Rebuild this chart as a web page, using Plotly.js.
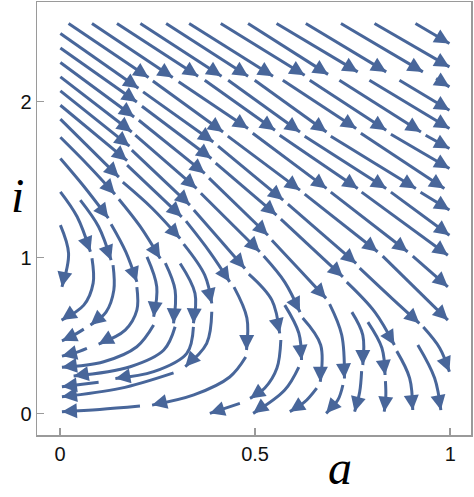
<!DOCTYPE html>
<html><head><meta charset="utf-8">
<script src="https://cdn.plot.ly/plotly-3.0.1.min.js"></script>
<style>html,body{margin:0;padding:0;background:#fff}#chart{width:474px;height:497px}</style>
</head><body><div id="chart"></div>
<script>
// Streamline segments; each is a list of [a, i] points, tail ... tip.
const rowA = [
 [[0.022,2.5],[0.227,2.154]],
 [[0.082,2.5],[0.289,2.154]],
 [[0.146,2.5],[0.354,2.162]],
 [[0.206,2.5],[0.414,2.162]],
 [[0.272,2.5],[0.482,2.162]],
 [[0.331,2.5],[0.546,2.162]],
 [[0.412,2.5],[0.627,2.168]],
 [[0.482,2.5],[0.687,2.174]],
 [[0.555,2.5],[0.763,2.19]],
 [[0.630,2.5],[0.836,2.19]],
 [[0.720,2.5],[0.930,2.19]],
 [[0.806,2.5],[0.998,2.222]],
 [[0.911,2.5],[0.998,2.372]]
];
const leftCol = [
 [[0.001,2.436],[0.201,2.085]],
 [[0.001,2.343],[0.197,1.997]],
 [[0.001,2.250],[0.190,1.901]],
 [[0.001,2.158],[0.184,1.805]],
 [[0.001,2.068],[0.178,1.714]],
 [[0.001,1.976],[0.172,1.621]],
 [[0.001,1.887],[0.151,1.515]],
 [[0.001,1.771],[0.072,1.592],[0.141,1.406]],
 [[0.001,1.635],[0.061,1.457],[0.124,1.252]],
 [[0.001,1.421],[0.044,1.261],[0.078,1.037]],
 [[0.052,1.368],[0.099,1.197],[0.131,0.983]],
 [[0.001,1.208],[0.022,1.026],[0.005,0.812]]
];
const upperChains = [
 [[0.238,2.132],[0.418,1.805]],
 [[0.430,1.778],[0.615,1.432]],
 [[0.627,1.406],[0.814,1.037]],
 [[0.827,1.009],[0.994,0.599]],
 [[0.304,2.126],[0.482,1.827]],
 [[0.494,1.797],[0.683,1.443]],
 [[0.694,1.419],[0.891,1.037]],
 [[0.904,1.009],[0.994,0.812]],
 [[0.371,2.136],[0.551,1.816]],
 [[0.563,1.784],[0.763,1.443]],
 [[0.773,1.419],[0.994,1.015]],
 [[0.431,2.136],[0.615,1.805]],
 [[0.627,1.778],[0.836,1.443]],
 [[0.848,1.419],[0.998,1.143]],
 [[0.499,2.136],[0.683,1.805]],
 [[0.694,1.778],[0.912,1.443]],
 [[0.924,1.419],[0.998,1.304]],
 [[0.571,2.136],[0.759,1.827]],
 [[0.771,1.797],[0.985,1.443]],
 [[0.640,2.136],[0.836,1.816]],
 [[0.848,1.790],[0.998,1.571]],
 [[0.716,2.136],[0.925,1.805]],
 [[0.937,1.784],[0.998,1.699]],
 [[0.793,2.136],[0.998,1.827]],
 [[0.870,2.136],[0.998,1.944]],
 [[0.964,2.147],[0.998,2.094]]
];
const middleChains = [
 [[0.213,2.062],[0.393,1.741]],
 [[0.405,1.714],[0.572,1.368]],
 [[0.584,1.342],[0.759,0.962]],
 [[0.768,0.932],[0.850,0.740],[0.921,0.578]],
 [[0.931,0.554],[0.973,0.420],[0.998,0.268]],
 [[0.210,1.970],[0.388,1.635]],
 [[0.399,1.605],[0.555,1.272]],
 [[0.566,1.246],[0.725,0.876]],
 [[0.735,0.842],[0.807,0.650],[0.857,0.439]],
 [[0.863,0.400],[0.896,0.227],[0.904,0.022]],
 [[0.202,1.880],[0.371,1.539]],
 [[0.382,1.509],[0.533,1.143]],
 [[0.543,1.111],[0.615,0.919],[0.682,0.738]],
 [[0.691,0.701],[0.722,0.503],[0.729,0.225]],
 [[0.725,0.183],[0.712,0.086],[0.682,0.001]],
 [[0.193,1.784],[0.350,1.443]],
 [[0.361,1.412],[0.512,1.037]],
 [[0.522,1.009],[0.576,0.842],[0.615,0.650]],
 [[0.622,0.612],[0.668,0.439],[0.667,0.204]],
 [[0.658,0.163],[0.627,0.074],[0.589,0.012]],
 [[0.184,1.688],[0.333,1.336]],
 [[0.343,1.304],[0.474,0.930]],
 [[0.484,0.894],[0.543,0.727],[0.563,0.514]],
 [[0.566,0.471],[0.556,0.291],[0.525,0.163],[0.487,0.097]],
 [[0.461,0.065],[0.384,0.001]]
];
const lowerLeftArcs = [
 [[0.172,1.592],[0.312,1.261]],
 [[0.323,1.233],[0.384,1.035],[0.435,0.844]],
 [[0.446,0.810],[0.479,0.612],[0.478,0.407]],
 [[0.476,0.362],[0.435,0.234],[0.343,0.119],[0.236,0.054]],
 [[0.205,0.048],[0.102,0.026],[0.005,0.012]],
 [[0.161,1.483],[0.236,1.316],[0.308,1.122]],
 [[0.317,1.086],[0.371,0.887],[0.389,0.706]],
 [[0.389,0.652],[0.376,0.450],[0.321,0.300]],
 [[0.291,0.261],[0.154,0.161],[0.005,0.108]],
 [[0.151,1.374],[0.205,1.201],[0.257,0.994]],
 [[0.270,0.964],[0.295,0.791],[0.291,0.578]],
 [[0.295,0.556],[0.266,0.407],[0.180,0.300],[0.035,0.240]],
 [[0.131,1.214],[0.169,1.035],[0.197,0.844]],
 [[0.197,0.810],[0.197,0.663],[0.167,0.535],[0.099,0.445]],
 [[0.069,0.418],[0.036,0.387],[0.005,0.368]],
 [[0.082,0.996],[0.085,0.836],[0.061,0.695],[0.004,0.599]],
 [[0.136,0.951],[0.138,0.791],[0.118,0.650],[0.078,0.567]],
 [[0.061,0.541],[0.031,0.496],[0.005,0.466]],
 [[0.223,1.004],[0.248,0.812],[0.240,0.620]],
 [[0.240,0.567],[0.197,0.428],[0.112,0.332],[0.005,0.296]],
 [[0.308,0.962],[0.346,0.770],[0.342,0.578]],
 [[0.342,0.556],[0.325,0.386],[0.240,0.268],[0.142,0.225]],
 [[0.099,0.200],[0.005,0.172]]
];
const lowerRightArcs = [
 [[0.576,0.695],[0.612,0.516],[0.619,0.343]],
 [[0.612,0.298],[0.576,0.151],[0.495,0.001]],
 [[0.748,0.650],[0.776,0.503],[0.776,0.311]],
 [[0.773,0.272],[0.768,0.138],[0.755,0.012]],
 [[0.789,0.586],[0.825,0.420],[0.833,0.247]],
 [[0.834,0.208],[0.835,0.112],[0.831,0.012]],
 [[0.917,0.439],[0.960,0.227],[0.976,0.022]]
];
const xTicks = [0, 0.5, 1];
const xTickText = ['0', '0.5', '1'];
const yTicks = [0, 1, 2];
const yTickText = ['0', '1', '2'];

const streamColor = 'rgb(72,102,154)';
const xRange = [-0.0589, 1.0533], yRange = [-0.1377, 2.638];
const margin = {l: 37, r: 3, t: 2, b: 62};
const pxA = (474 - margin.l - margin.r) / (xRange[1] - xRange[0]);
const pxI = (497 - margin.t - margin.b) / (yRange[1] - yRange[0]);

const segments = [].concat(rowA, leftCol, upperChains, middleChains, lowerLeftArcs, lowerRightArcs);
const traces = segments.map(seg => ({
  type: 'scatter', mode: 'lines',
  x: seg.map(p => p[0]), y: seg.map(p => p[1]),
  line: {color: streamColor, width: 3, shape: 'spline', smoothing: 1},
  hoverinfo: 'skip'
}));
const arrowAnns = segments.map(seg => {
  const tip = seg[seg.length - 1], prev = seg[seg.length - 2];
  const dx = (prev[0] - tip[0]) * pxA, dy = (prev[1] - tip[1]) * pxI;
  const f = 9 / Math.hypot(dx, dy);
  return {x: tip[0], y: tip[1], xref: 'x', yref: 'y', axref: 'x', ayref: 'y',
    ax: tip[0] + (prev[0] - tip[0]) * f, ay: tip[1] + (prev[1] - tip[1]) * f,
    text: '', showarrow: true, arrowhead: 2, arrowsize: 1.0, arrowwidth: 3,
    arrowcolor: streamColor, standoff: 0};
});
const axisBase = {
  showgrid: false, zeroline: false, showline: true, mirror: true,
  linecolor: '#9a9a9a', linewidth: 1.5, ticks: 'inside', ticklen: 7,
  tickwidth: 1.5, tickcolor: '#9a9a9a',
  tickfont: {family: 'Liberation Sans, Arial, sans-serif', size: 20, color: '#111'}
};
const titleFont = {family: 'Liberation Serif, Times New Roman, serif', size: 48, color: '#000', style: 'italic'};
const layout = {
  width: 474, height: 497, margin: margin,
  paper_bgcolor: '#fff', plot_bgcolor: '#fff', showlegend: false,
  xaxis: Object.assign({}, axisBase, {range: xRange, tickvals: xTicks, ticktext: xTickText}),
  yaxis: Object.assign({}, axisBase, {range: yRange, tickvals: yTicks, ticktext: yTickText}),
  annotations: arrowAnns.concat([
    {text: 'a', xref: 'paper', yref: 'paper', x: (340 - 37) / 434, y: -0.0762, xanchor: 'center', yanchor: 'middle',
     showarrow: false, font: titleFont},
    {text: 'i', xref: 'paper', yref: 'paper', x: -0.0438, y: 0.554, xanchor: 'center', yanchor: 'middle',
     showarrow: false, font: titleFont}
  ])
};
Plotly.newPlot('chart', traces, layout, {staticPlot: true});
</script></body></html>
